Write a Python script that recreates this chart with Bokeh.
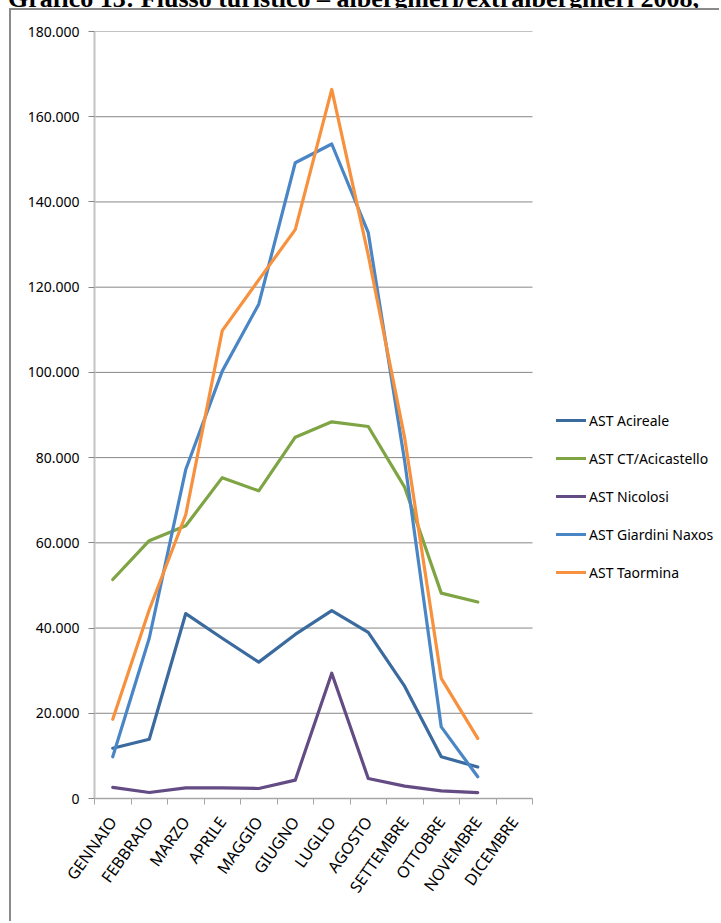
import numpy as np
from bokeh.plotting import figure
from bokeh.layouts import column
from bokeh.models import Range1d, FixedTicker, Legend, LegendItem, Div
from bokeh.embed import file_html
from bokeh.resources import INLINE

# Monthly tourist flow (arrivals) per tourism office, 2008
months = ["GENNAIO", "FEBBRAIO", "MARZO", "APRILE", "MAGGIO", "GIUGNO",
          "LUGLIO", "AGOSTO", "SETTEMBRE", "OTTOBRE", "NOVEMBRE", "DICEMBRE"]

acireale = [11800, 13900, 43400, 37600, 32000, 38500, 44100, 39000, 26300, 9800, 7400]
acicastello = [51400, 60500, 64000, 75300, 72200, 84800, 88400, 87300, 73000, 48200, 46100]
nicolosi = [2600, 1400, 2500, 2500, 2350, 4300, 29400, 4700, 2900, 1800, 1400]
giardini_naxos = [9800, 37600, 77200, 100300, 116000, 149200, 153600, 132800, 79000, 16800, 5100]
taormina = [18600, 44300, 66600, 109800, 121700, 133500, 166400, 127500, 84500, 28200, 14100]

series_names = ["AST Acireale", "AST CT/Acicastello", "AST Nicolosi",
                "AST Giardini Naxos", "AST Taormina"]
series_values = [acireale, acicastello, nicolosi, giardini_naxos, taormina]
series_colors = ["#3b6a9f", "#7ea443", "#634b83", "#4a86c5", "#f7913d"]

y_ticks = list(range(0, 180001, 20000))
y_tick_labels = ["0", "20.000", "40.000", "60.000", "80.000", "100.000",
                 "120.000", "140.000", "160.000", "180.000"]

title_text = "Grafico 13: Flusso turistico \u2013 alberghieri/extralberghieri 2008,"

FONT = "Noto Sans"
n = len(months)

# the plot frame runs to the right edge so the legend can sit beside the
# month slots; the x range is widened accordingly (12 slots over 438 px)
slot_px = 438 / n
x_end = 627 / slot_px

p = figure(width=710, height=913, output_backend="svg", toolbar_location=None,
           x_range=Range1d(0, x_end), y_range=Range1d(0, 180000),
           min_border_left=83, min_border_right=0, min_border_top=21,
           min_border_bottom=125)
p.outline_line_color = None
p.background_fill_color = "white"
p.border_fill_color = "white"
p.styles = {"margin-left": "9px",
            "border-top": "2px solid #8a8a8a",
            "border-left": "2px solid #8a8a8a"}

# month positions: centre of each category slot
centres = np.arange(n) + 0.5

# horizontal value grid, limited to the month slots
p.segment(x0=0, x1=n, y0=y_ticks[1:], y1=y_ticks[1:],
          line_color="#868686", line_width=1)

items = []
for name, vals, col in zip(series_names, series_values, series_colors):
    r = p.line(centres[:len(vals)], vals, line_color=col, line_width=3.2,
               line_join="round", line_cap="round")
    items.append(LegendItem(label=name, renderers=[r]))

# x axis: labels at slot centres, tick marks at slot boundaries
xa = p.xaxis[0]
xa.bounds = (0, n)
xa.ticker = FixedTicker(ticks=list(centres), minor_ticks=list(range(n + 1)))
xa.major_label_overrides = {float(c): m for c, m in zip(centres, months)}
xa.major_label_orientation = 0.95
xa.major_tick_out = 0
xa.major_tick_in = 0
xa.minor_tick_out = 6
xa.minor_tick_in = 0
xa.minor_tick_line_color = "#a6a6a6"
xa.axis_line_color = "#a6a6a6"
xa.axis_line_width = 1.5
xa.major_label_text_font = FONT
xa.major_label_text_font_size = "16px"
xa.major_label_text_color = "#000000"
xa.major_label_standoff = 14

ya = p.yaxis[0]
ya.ticker = FixedTicker(ticks=y_ticks)
ya.major_label_overrides = {t: l for t, l in zip(y_ticks, y_tick_labels)}
ya.major_tick_out = 6
ya.major_tick_in = 0
ya.minor_tick_out = 0
ya.minor_tick_in = 0
ya.major_tick_line_color = "#868686"
ya.axis_line_color = "#c4c4c4"
ya.axis_line_width = 2
ya.major_label_text_font = FONT
ya.major_label_text_font_size = "14px"
ya.major_label_text_color = "#000000"
ya.major_label_standoff = 9

p.xgrid.grid_line_color = None
p.ygrid.grid_line_color = None

leg = Legend(items=items, location=(462, 216))
leg.label_text_font = FONT
leg.label_text_font_size = "14px"
leg.label_text_color = "#000000"
leg.glyph_width = 30
leg.glyph_height = 20
leg.label_height = 20
leg.label_standoff = 3
leg.spacing = 18
leg.padding = 0
leg.margin = 0
leg.border_line_color = None
leg.background_fill_color = None
p.add_layout(leg, "center")

# heading line above the chart box (only its lower part shows)
heading = Div(
    text=('<div style="font-family: \'Liberation Serif\'; font-weight: bold; '
          'font-size: 26px; line-height: 26px; white-space: nowrap; '
          'position: relative; top: -14px; left: 8px; color: #000;">'
          + title_text + '</div>'),
    width=721, height=8, margin=0, styles={"overflow": "hidden"})

layout = column(heading, p, spacing=0)

open("out.html", "w").write(file_html(layout, INLINE))
